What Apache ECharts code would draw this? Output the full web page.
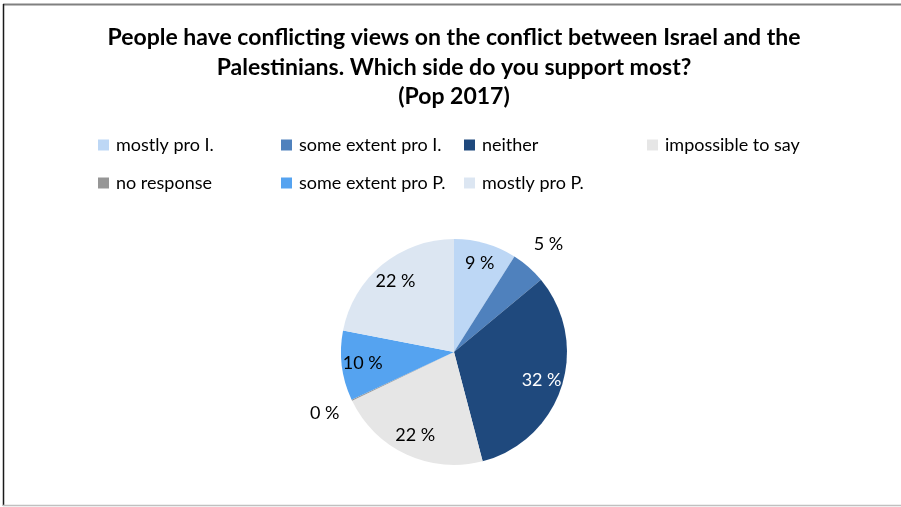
<!DOCTYPE html>
<html>
<head>
<meta charset="utf-8">
<script src="https://cdn.jsdelivr.net/npm/echarts@6/dist/echarts.min.js"></script>
<style>
  html, body { margin: 0; padding: 0; background: #ffffff; }
  #chart { width: 901px; height: 507px; }
</style>
</head>
<body>
<div id="chart"></div>
<script>
// Survey answers (Pop 2017), clockwise from 12 o'clock
const categories = [
  'mostly pro I.',
  'some extent pro I.',
  'neither',
  'impossible to say',
  'no response',
  'some extent pro P.',
  'mostly pro P.'
];
const shares = [9, 5, 32, 22, 0, 10, 22];
const sliceColors = ['#BDD7F5', '#4F81BD', '#1F497D', '#E6E6E6', '#969696', '#55A3F0', '#DCE6F2'];
// slices whose value label sits outside the pie
const outsideLabel = [false, true, false, false, true, false, false];
// white label text on the dark slice
const labelColors = ['#000', '#000', '#fff', '#000', '#000', '#000', '#000'];

const FONT = 'Lato, "Open Sans", "Noto Sans", sans-serif';
const center = [454, 352];
const R = 113;

const chart = echarts.init(document.getElementById('chart'), null, { renderer: 'canvas' });

const baseData = categories.map((name, i) => ({
  name,
  value: shares[i],
  itemStyle: { color: sliceColors[i] }
}));

// transparent overlay rings used only to place value labels at the wanted radius
function labelRing(radius, showFn) {
  return {
    type: 'pie',
    silent: true,
    center,
    radius: [0, radius],
    startAngle: 90,
    clockwise: true,
    minAngle: 0.6,
    avoidLabelOverlap: false,
    legendHoverLink: false,
    animation: false,
    itemStyle: { color: 'rgba(0,0,0,0)', borderWidth: 0 },
    labelLine: { show: false },
    emphasis: { disabled: true },
    data: categories.map((name, i) => ({
      name,
      value: shares[i],
      itemStyle: { color: 'rgba(0,0,0,0)' },
      label: {
        show: showFn(i),
        position: 'inside',
        formatter: '{c} %',
        color: labelColors[i],
        fontFamily: FONT,
        fontSize: 18
      }
    }))
  };
}

chart.setOption({
  backgroundColor: '#ffffff',
  animation: false,
  title: {
    text: 'People have conflicting views on the conflict between Israel and the\nPalestinians. Which side do you support most?\n(Pop 2017)',
    left: 454,
    textAlign: 'center',
    top: 23,
    padding: 0,
    textStyle: {
      fontFamily: FONT,
      fontWeight: 'bold',
      fontSize: 23,
      lineHeight: 29.5,
      color: '#000'
    }
  },
  legend: {
    data: categories,
    left: 98,
    top: 126,
    width: 740,
    padding: 0,
    orient: 'horizontal',
    itemGap: 0,
    itemWidth: 11,
    itemHeight: 11,
    icon: 'rect',
    selectedMode: false,
    textStyle: {
      fontFamily: FONT,
      fontSize: 18,
      color: '#000',
      width: 165,
      lineHeight: 38,
      overflow: 'none',
      padding: [0, 0, 0, 2]
    }
  },
  graphic: [
    { type: 'line', shape: { x1: 3, y1: 4.5, x2: 901, y2: 4.5 }, style: { stroke: '#808080', lineWidth: 2 }, silent: true },
    { type: 'line', shape: { x1: 3.5, y1: 4, x2: 3.5, y2: 506 }, style: { stroke: '#1a1a1a', lineWidth: 1.5 }, silent: true },
    { type: 'line', shape: { x1: 3, y1: 505.5, x2: 901, y2: 505.5 }, style: { stroke: '#c0c0c0', lineWidth: 1.5 }, silent: true }
  ],
  series: [
    {
      type: 'pie',
      name: 'share',
      center,
      radius: [0, R],
      startAngle: 90,
      clockwise: true,
      minAngle: 0.6,
      avoidLabelOverlap: false,
      label: { show: false },
      labelLine: { show: false },
      emphasis: { disabled: true },
      itemStyle: { borderWidth: 0 },
      data: baseData
    },
    labelRing(178, i => !outsideLabel[i]),
    labelRing(280, i => outsideLabel[i])
  ]
});
</script>
</body>
</html>
